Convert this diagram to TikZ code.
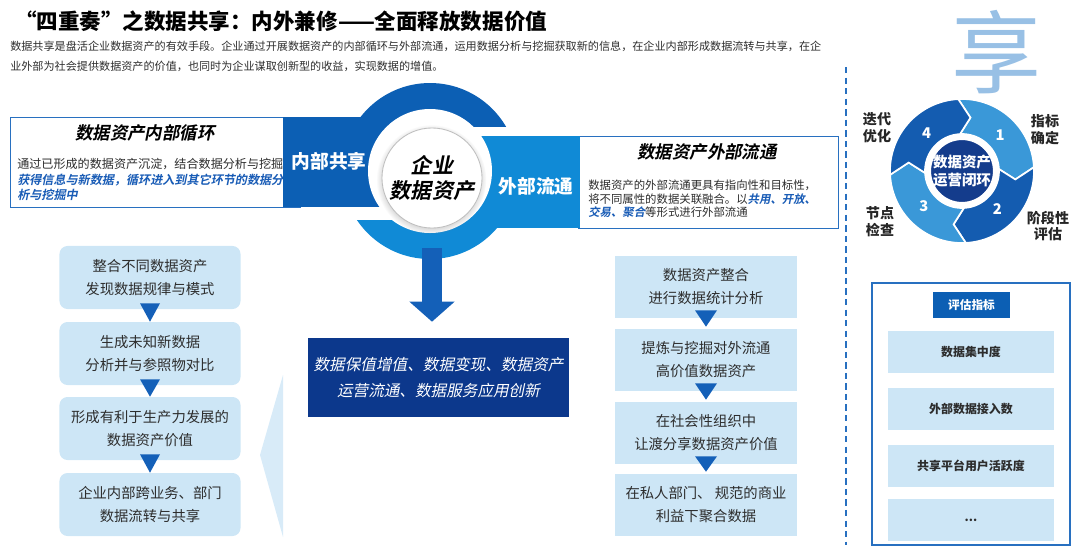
\documentclass[tikz,border=0pt]{standalone}
\usepackage{fontspec}
\setmainfont{Noto Sans CJK SC}[ItalicFont={Noto Sans CJK SC},ItalicFeatures={FakeSlant=0.2},BoldItalicFont={Noto Sans CJK SC Bold},BoldItalicFeatures={FakeSlant=0.2}]
\usetikzlibrary{arrows.meta,calc,positioning,shapes.geometric,shadows}
\definecolor{ringdark}{RGB}{12,95,180}
\definecolor{ringlight}{RGB}{16,138,214}
\definecolor{arrowblue}{RGB}{20,96,184}
\definecolor{navy}{RGB}{12,56,140}
\definecolor{pale}{RGB}{205,230,246}
\definecolor{paler}{RGB}{216,235,248}
\definecolor{edge}{RGB}{40,112,192}
\definecolor{txt}{RGB}{45,45,45}
\definecolor{hilite}{RGB}{25,92,182}
\definecolor{cycA}{RGB}{58,152,216}
\definecolor{cycB}{RGB}{20,92,176}
\definecolor{disc}{RGB}{20,60,140}
\definecolor{xiang}{RGB}{152,192,229}
\newcommand{\hot}[1]{{\color{hilite}\bfseries\itshape #1}}

\begin{document}
\begin{tikzpicture}[x=0.025cm,y=-0.025cm,
  lbox/.style={fill=pale,rounded corners=0.2cm,minimum width=4.525cm,minimum height=1.575cm,align=center,text=txt,font=\fontsize{10.2}{16.3}\selectfont},
  rbox/.style={fill=pale,minimum width=4.55cm,minimum height=1.55cm,align=center,text=txt,font=\fontsize{10.2}{16.3}\selectfont},
  kpi/.style={fill=pale,minimum width=4.125cm,minimum height=1.05cm,text=txt,font=\fontsize{8.5}{10}\selectfont\bfseries},
  stage/.style={align=center,text=black!85,font=\fontsize{10}{12}\selectfont\bfseries},
  bandtxt/.style={text=white,font=\fontsize{13.3}{16}\selectfont\bfseries}]
  \useasboundingbox (0,0) rectangle (1080,555);
  \node[anchor=west,inner sep=0,font=\fontsize{15.3}{18}\selectfont\bfseries] (title) at (15,21) {“四重奏”之数据共享：内外兼修——全面释放数据价值};
  \node[anchor=north west,inner sep=0,align=left,text=txt,font=\fontsize{7.9}{14.2}\selectfont] (intro) at (10,41) {数据共享是盘活企业数据资产的有效手段。企业通过开展数据资产的内部循环与外部流通，运用数据分析与挖掘获取新的信息，在企业内部形成数据流转与共享，在企\\业外部为社会提供数据资产的价值，也同时为企业谋取创新型的收益，实现数据的增值。};
  \node[text=xiang,inner sep=0,font=\fontsize{64}{64}\selectfont] (xiang) at (996,52) {享};

  \node[draw=edge,line width=1pt,fill=white,anchor=north west,minimum width=7.25cm,minimum height=2.25cm] (inbox) at (10,117) {};
  \node[font=\fontsize{12.4}{14}\selectfont\bfseries\itshape] (intitle) at (145,133) {数据资产内部循环};
  \node[anchor=north west,inner sep=0,align=left,text=txt,font=\fontsize{8.6}{11}\selectfont] (inbody) at (17,158) {通过已形成的数据资产沉淀，结合数据分析与挖掘\\\hot{获得信息与新数据，循环进入到其它环节的数据分}\\\hot{析与挖掘中}};
  \node[draw=edge,line width=1pt,fill=white,anchor=north west,minimum width=6.5cm,minimum height=2.3cm] (outbox) at (578,136) {};
  \node[font=\fontsize{12.4}{14}\selectfont\bfseries\itshape] (outtitle) at (707,152) {数据资产外部流通};
  \node[anchor=north west,inner sep=0,align=left,text=txt,font=\fontsize{8.1}{9.6}\selectfont] (outbody) at (588,180) {数据资产的外部流通更具有指向性和目标性，\\将不同属性的数据关联融合。以\hot{共用、开放、}\\\hot{交易、聚合}等形式进行外部流通};

  \fill[ringdark] (283,117) rectangle (430,207);
  \begin{scope}\clip (330,70) rectangle (530,126); \fill[ringdark] (430,171) circle (88); \end{scope}
  \fill[ringlight] (430,136) rectangle (580,228);
  \begin{scope}\clip (330,220) rectangle (530,270); \fill[ringlight] (430,171) circle (88); \end{scope}
  \fill[white] (430,171) circle (62);
  \node[bandtxt] (intag) at (329,161) {内部共享};
  \node[bandtxt] (outtag) at (536,186) {外部流通};
  \node[circle,fill=white,draw=black!25,line width=0.6pt,minimum size=2.5cm,inner sep=0,align=center,
    circular drop shadow={shadow xshift=-0.5pt,shadow yshift=-1pt,opacity=0.35},
    font=\fontsize{15}{17.7}\selectfont\bfseries\itshape] (coredisc) at (432,178) {企业\\数据资产};
  \node[fill=navy,minimum width=6.525cm,minimum height=1.975cm,align=center,text=white,font=\fontsize{11.1}{19}\selectfont\itshape] (outcome) at (438.5,377.5) {数据保值增值、数据变现、数据资产\\运营流通、数据服务应用创新};
  \draw[arrowblue,line width=0.5cm,-{Triangle[width=1.1cm,length=0.5cm]},shorten <=0.5cm,shorten >=0.4cm] (coredisc.south) -- (coredisc.south |- outcome.north);
  \fill[paler] (283,375) -- (260,455) -- (283,537) -- cycle;

  \foreach \k/\y/\s in {1/277.5/{整合不同数据资产\\发现数据规律与模式},2/353.5/{生成未知新数据\\分析并与参照物对比},3/428.5/{形成有利于生产力发展的\\数据资产价值},4/504.5/{企业内部跨业务、部门\\数据流转与共享}} {\node[lbox] (L\k) at (150,\y) {\s};}
  \foreach \k/\y/\s in {1/287/{数据资产整合\\进行数据统计分析},2/360/{提炼与挖掘对外流通\\高价值数据资产},3/433/{在社会性组织中\\让渡分享数据资产价值},4/505/{在私人部门、 规范的商业\\利益下聚合数据}} {\node[rbox] (R\k) at (706,\y) {\s};}
  \foreach \k in {1,2,3} {\pgfmathtruncatemacro{\n}{\k+1} \fill[arrowblue] ($(L\k.south)+(-10,-6)$) -- ($(L\k.south)+(10,-6)$) -- (L\n.north) -- cycle; \fill[arrowblue] ($(R\k.south)+(-11,-8)$) -- ($(R\k.south)+(11,-8)$) -- ($(R\n.north)+(0,-2)$) -- cycle;}

  \coordinate (dtop) at (846,67); \coordinate (dbot) at (846,545);
  \draw[edge,line width=1.1pt,dash pattern=on 4.5pt off 3pt] (dtop) -- (dbot);

  \begin{scope}[shift={(962,171)},yscale=-1]
    \foreach \k/\c in {1/cycA,2/cycB,3/cycA,4/cycB} {\pgfmathsetmacro{\a}{93-90*(\k-1)} \pgfmathsetmacro{\b}{\a-90}
      \fill[\c,draw=white,line width=1.2pt] (\a:72) arc[start angle=\a,end angle=\b,radius=72] -- ({\b-12}:54) -- (\b:37) arc[start angle=\b,end angle=\a,radius=37] -- ({\a-12}:54) -- cycle;
      \node[text=white,font=\fontsize{10.5}{12}\selectfont\bfseries] (num\k) at ({\a-50}:52) {\k};}
    \fill[disc,draw=white,line width=1.5pt] (0,0) circle (32);
    \node[align=center,text=white,inner sep=0,font=\fontsize{10.3}{12.8}\selectfont\bfseries] (hub) at (0,0) {数据资产\\运营闭环};
  \end{scope}
  \node[stage] (st1) at (1045,130) {指标\\确定};
  \node[stage] (st2) at (1048,226) {阶段性\\评估};
  \node[stage] (st3) at (880,222) {节点\\检查};
  \node[stage] (st4) at (877,128) {迭代\\优化};

  \node[draw=edge,line width=0.9pt,minimum width=4.95cm,minimum height=6.55cm] (kpibox) at (971,414) {};
  \node[fill=ringdark,text=white,minimum width=1.925cm,minimum height=0.65cm,font=\fontsize{8.3}{10}\selectfont\bfseries] (kpititle) at (971.5,305) {评估指标};
  \foreach \k/\y/\s in {1/352/数据集中度,2/409/外部数据接入数,3/466/共享平台用户活跃度} {\node[kpi] (K\k) at (971,\y) {\s};}
  \node[kpi] (K4) at (971,520) {...};
\end{tikzpicture}
\end{document}
